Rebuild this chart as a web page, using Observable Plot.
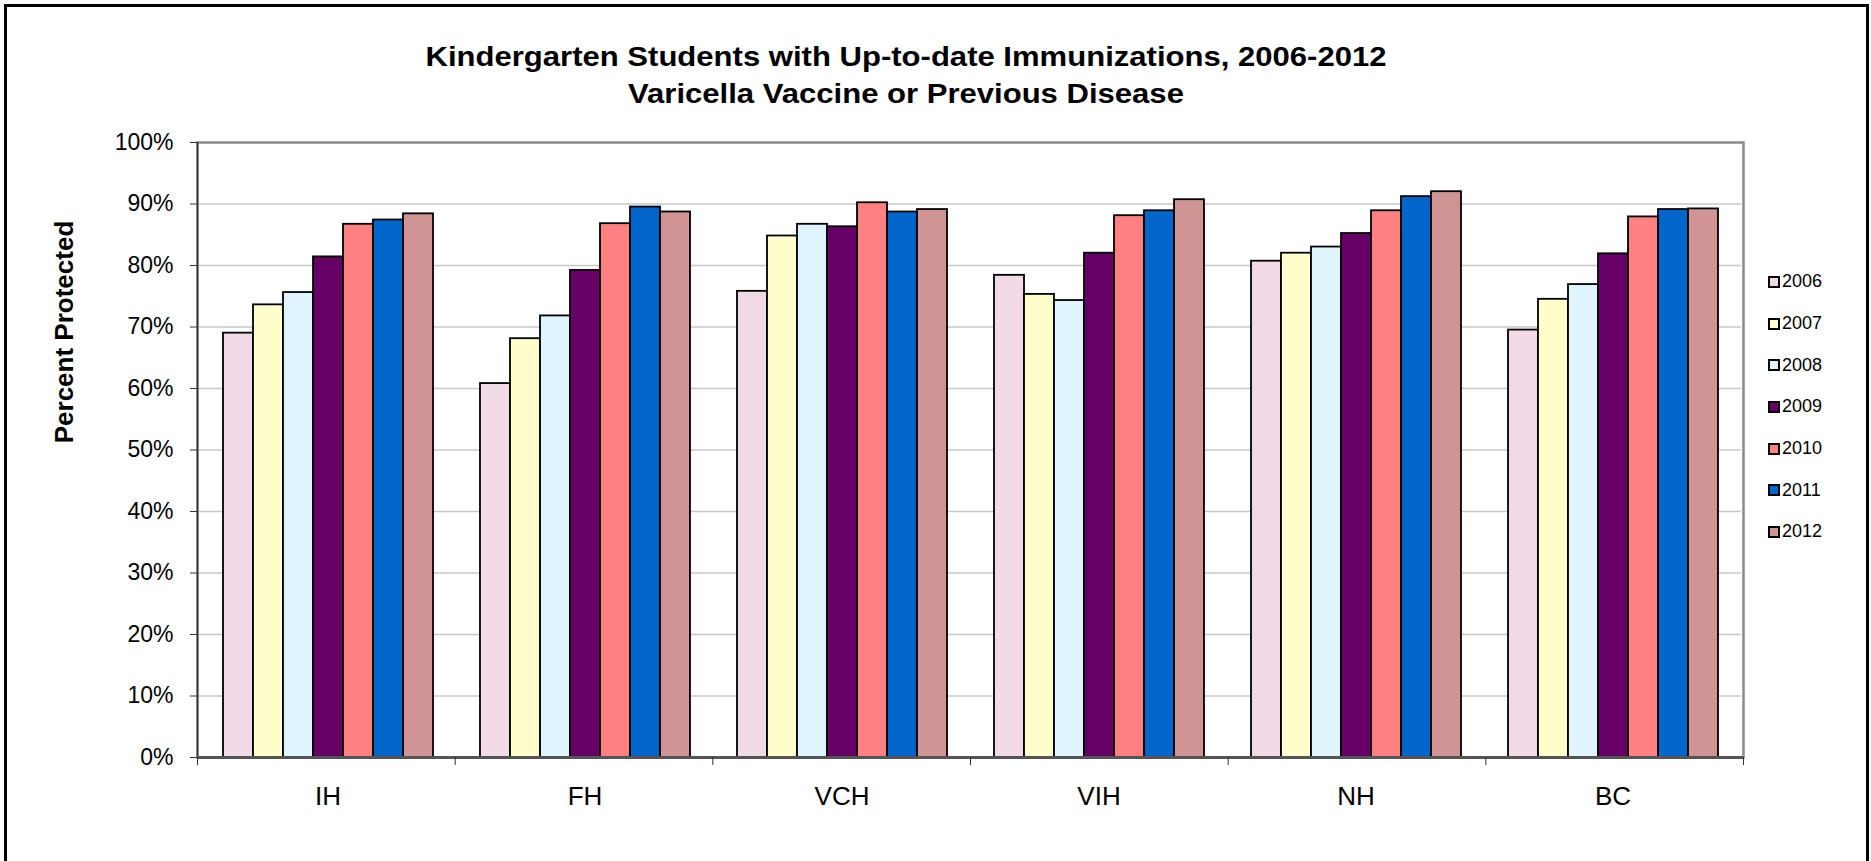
<!DOCTYPE html>
<html>
<head>
<meta charset="utf-8">
<script src="https://cdn.jsdelivr.net/npm/d3@7"></script>
<script src="https://cdn.jsdelivr.net/npm/@observablehq/plot@0.6"></script>
<style>
  html, body { margin: 0; padding: 0; background: #fff; overflow: hidden; }
  #root { position: relative; width: 1871px; height: 861px; overflow: hidden;
          font-family: "Liberation Sans", Arial, sans-serif; color: #000; }
  #root svg { position: absolute; left: 0; top: 0; }
  #outer { position: absolute; left: 4px; top: 4px; width: 1859px; height: 900px;
           border: 3px solid #000; box-sizing: content-box; }
  #title { position: absolute; left: 0; top: 39px; width: 1812px; text-align: center;
           font-weight: bold; font-size: 27px; line-height: 37px;
           transform: scaleX(1.15); transform-origin: 906px 0; }
  #ytitle { position: absolute; left: -86px; top: 317px; width: 300px; height: 30px;
            line-height: 30px; text-align: center; font-weight: bold; font-size: 26px;
            transform: rotate(-90deg); }
  #legend { position: absolute; left: 1768px; top: 261px; font-size: 18px; }
  .lrow { height: 41.7px; display: flex; align-items: center; }
  .lsw { width: 8px; height: 8px; border: 2px solid #000; margin-right: 2px; }
</style>
</head>
<body>
<div id="root">
  <div id="outer"></div>
  <div id="title">Kindergarten Students with Up-to-date Immunizations, 2006-2012<br>Varicella Vaccine or Previous Disease</div>
  <div id="ytitle">Percent Protected</div>
  <div id="legend"></div>
</div>
<script>
// ---- data ----
const regions = ["IH", "FH", "VCH", "VIH", "NH", "BC"];
const years = ["2006", "2007", "2008", "2009", "2010", "2011", "2012"];
const colors = ["#F2D9E6", "#FFFFCC", "#E0F4FE", "#660066", "#FF8080", "#0066CC", "#D19494"];
const v2006 = [69.0, 60.8, 75.8, 78.4, 80.7, 69.5];
const v2007 = [73.6, 68.1, 84.8, 75.3, 82.0, 74.5];
const v2008 = [75.6, 71.8, 86.7, 74.3, 83.0, 76.9];
const v2009 = [81.4, 79.2, 86.3, 82.0, 85.2, 81.9];
const v2010 = [86.7, 86.8, 90.2, 88.1, 88.9, 87.9];
const v2011 = [87.4, 89.5, 88.7, 88.9, 91.2, 89.1];
const v2012 = [88.4, 88.7, 89.1, 90.7, 92.0, 89.2];
const yTicks = [0, 10, 20, 30, 40, 50, 60, 70, 80, 90, 100];

const series = [v2006, v2007, v2008, v2009, v2010, v2011, v2012];
const data = [];
regions.forEach((r, i) => years.forEach((y, j) => data.push({region: r, year: y, value: series[j][i]})));

const W = 1871, H = 861;
const margins = {marginLeft: 197, marginRight: 128, marginTop: 142, marginBottom: 104};
const font = "'Liberation Sans', Arial, sans-serif";

// main faceted bar chart
const main = Plot.plot({
  width: W, height: H, ...margins,
  style: {fontFamily: font, background: "transparent", color: "#000"},
  fx: {domain: regions, padding: 0, label: null, axis: null},
  x: {domain: years, paddingInner: 0, paddingOuter: 0.75, axis: null},
  y: {domain: [0, 100], axis: null},
  color: {domain: years, range: colors},
  marks: [
    Plot.ruleY(yTicks.slice(1, -1), {stroke: "#c8c8c8", strokeWidth: 1.5}),
    Plot.barY(data, {fx: "region", x: "year", y: "value", fill: "year", stroke: "#000", strokeWidth: 1.8}),
    Plot.axisFx({anchor: "bottom", tickSize: 0, tickPadding: 29, fontSize: 26, label: null})
  ]
});

// overlay: frame, axis lines, ticks, y labels
const overlay = Plot.plot({
  width: W, height: H, ...margins,
  style: {fontFamily: font, background: "transparent", color: "#000"},
  x: {domain: [0, regions.length]},
  y: {domain: [0, 100]},
  marks: [
    Plot.frame({stroke: "#8a8a8a", strokeWidth: 2.5}),
    Plot.ruleX([0], {stroke: "#333", strokeWidth: 1.5}),
    Plot.ruleY([0], {stroke: "#555", strokeWidth: 3}),
    Plot.axisY({ticks: yTicks, tickSize: 7, tickPadding: 17, fontSize: 23,
                tickFormat: d => d + "%", stroke: "#333", label: null}),
    Plot.axisX({ticks: d3.range(regions.length + 1), tickSize: 8, tickFormat: () => "",
                stroke: "#333", label: null})
  ]
});

const root = document.getElementById("root");
root.insertBefore(main, document.getElementById("title"));
root.insertBefore(overlay, document.getElementById("title"));

// legend
const legend = d3.select("#legend");
years.forEach((y, i) => {
  const row = legend.append("div").attr("class", "lrow");
  row.append("div").attr("class", "lsw").style("background", colors[i]);
  row.append("span").text(y);
});
</script>
</body>
</html>
